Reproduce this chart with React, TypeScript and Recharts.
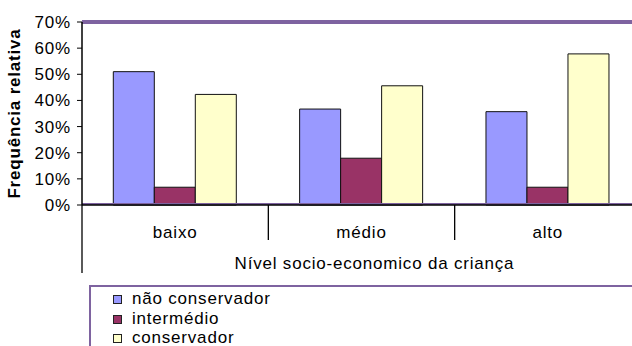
import {
	BarChart,
	Bar,
	XAxis,
	YAxis,
	Legend,
	ReferenceLine,
} from "recharts";

const niveis = ["baixo", "médio", "alto"];
const naoConservador = [0.51, 0.367, 0.357];
const intermedio = [0.068, 0.179, 0.068];
const conservador = [0.423, 0.456, 0.578];
const yTicks = [0, 0.1, 0.2, 0.3, 0.4, 0.5, 0.6, 0.7];
const seriesOrder = ["naoConservador", "intermedio", "conservador"];

const data = niveis.map((nivel, i) => ({
	nivel,
	naoConservador: naoConservador[i],
	intermedio: intermedio[i],
	conservador: conservador[i],
}));

const FRAME = "#7e63a0";
const FONT = "'Liberation Sans', Arial, sans-serif";
const FS = 17;

// category label plus the separator on the left edge of each band
function CategoryTick(props: any) {
	const { x, y, payload, index } = props;
	const left = x - payload.offset;
	return (
		<g>
			<line
				x1={left}
				x2={left}
				y1={y}
				y2={y + (index === 0 ? 68 : 35)}
				stroke="#000"
				strokeWidth={1.3}
			/>
			<text x={x} y={y + 33} textAnchor="middle" fill="#000" fontSize={FS}>
				{payload.value}
			</text>
		</g>
	);
}

function LegendBox({ payload }: any) {
	const items = [...(payload || [])].sort(
		(a: any, b: any) =>
			seriesOrder.indexOf(a.dataKey) - seriesOrder.indexOf(b.dataKey),
	);
	return (
		<div
			style={{
				border: `2px solid ${FRAME}`,
				width: 560,
				height: 90,
				boxSizing: "border-box",
				paddingLeft: 22,
				paddingTop: 2,
				fontSize: FS,
				color: "#000",
			}}
		>
			{items.map((entry: any) => (
				<div key={entry.value} style={{ height: 19.5, lineHeight: "19.5px" }}>
					<span
						style={{
							display: "inline-block",
							width: 7,
							height: 7,
							background: entry.color,
							border: "1px solid #222",
							marginRight: 10,
						}}
					/>
					{entry.value}
				</div>
			))}
		</div>
	);
}

export default function App() {
	return (
		<div
			style={{
				position: "fixed",
				top: 0,
				left: 0,
				width: 632,
				height: 346,
				overflow: "hidden",
				background: "#fff",
				fontFamily: FONT,
				letterSpacing: "0.8px",
			}}
		>
			<BarChart
				width={660}
				height={346}
				data={data}
				margin={{ top: 22, right: 19, bottom: 71, left: 0 }}
				barCategoryGap="16.8%"
				barGap={0}
			>
				<XAxis
					dataKey="nivel"
					height={70}
					tickLine={false}
					tickSize={0}
					tickMargin={0}
					axisLine={{ stroke: "#000", strokeWidth: 1.5 }}
					tick={<CategoryTick />}
					label={{
						value: "Nível socio-economico da criança",
						position: "insideBottom",
						offset: 6,
						dx: 13,
						fill: "#000",
						fontSize: FS,
					}}
				/>
				<YAxis
					width={82}
					domain={[0, 0.7]}
					ticks={yTicks}
					tickFormatter={(v: number) => `${Math.round(v * 100)}%`}
					tick={{ fill: "#000", fontSize: FS }}
					tickSize={5}
					tickMargin={6}
					tickLine={{ stroke: "#000" }}
					axisLine={{ stroke: "#000", strokeWidth: 1.5 }}
					label={{
						value: "Frequência relativa",
						angle: -90,
						position: "insideLeft",
						offset: 19,
						dx: -5,
						fill: "#000",
						fontSize: FS,
						fontWeight: "bold",
						style: { textAnchor: "middle" },
					}}
				/>
				<ReferenceLine y={0.7} stroke={FRAME} strokeWidth={4} />
				<ReferenceLine y={0.004} stroke={FRAME} strokeWidth={2} />
				<Bar
					dataKey="naoConservador"
					name="não conservador"
					fill="#9999FF"
					stroke="#111"
					isAnimationActive={false}
				/>
				<Bar
					dataKey="intermedio"
					name="intermédio"
					fill="#993366"
					stroke="#111"
					isAnimationActive={false}
				/>
				<Bar
					dataKey="conservador"
					name="conservador"
					fill="#FFFFCC"
					stroke="#111"
					isAnimationActive={false}
				/>
				<Legend
					layout="vertical"
					align="center"
					verticalAlign="middle"
					wrapperStyle={{ left: 89, top: 285, width: 560 }}
					content={<LegendBox />}
				/>
			</BarChart>
		</div>
	);
}
